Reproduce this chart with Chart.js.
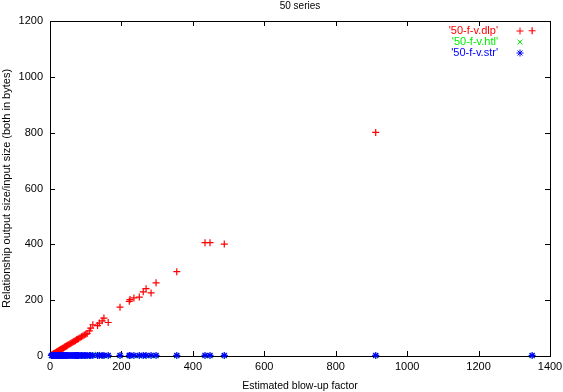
<!DOCTYPE html>
<html>
<head>
<meta charset="utf-8">
<script src="https://cdn.jsdelivr.net/npm/chart.js@4"></script>
<style>
	html, body { margin: 0; padding: 0; background: #fff; }
	#wrap { width: 563px; height: 392px; }
</style>
</head>
<body>
<div id="wrap"><canvas id="grafico" width="563" height="392"></canvas></div>
<script>
// Datos (factor estimado vs. relación salida/entrada)
const factores = [4, 6, 8, 10, 12, 14, 16, 18, 20, 22, 24, 26, 28, 30, 32, 34, 36, 38, 40, 42,
	44, 46, 48, 50, 53, 56, 59, 62, 65, 68, 71, 74, 77, 80, 84, 88, 92, 96, 100, 104,
	110, 114, 120, 133, 138, 146, 151, 163, 196, 222, 224, 235, 250, 261, 269, 283, 297, 355,
	434, 448, 488, 912, 1350];
const dlp = [3, 5, 6, 8, 9, 11, 12, 14, 15, 17, 19, 20, 22, 23, 25, 26, 28, 29, 31, 33,
	34, 36, 37, 39, 41, 44, 46, 48, 51, 53, 55, 58, 60, 62, 65, 69, 72, 75, 78, 81,
	90, 100, 112, 109, 118, 126, 136, 120, 175, 196, 202, 208, 211, 230, 241, 226, 262, 302,
	406, 406, 401, 801, 1165];
const htl = [1, 1, 1, 1, 1, 1, 1, 1, 1, 1, 1, 1, 1, 1, 1, 1, 1, 1, 1, 1,
	1, 1, 1, 1, 1, 1, 1, 1, 1, 1, 1, 1, 1, 1, 1, 1, 1, 1, 1, 1,
	1, 1, 1, 6, 1, 1, 1, 1, 1, 1, 1, 1, 1, 1, 1, 1, 1, 1,
	1, 1, 1, 1, 1];
const str = [2, 2, 2, 2, 2, 2, 2, 2, 2, 2, 2, 2, 2, 2, 2, 2, 2, 2, 2, 2,
	2, 2, 2, 2, 2, 2, 2, 2, 2, 2, 2, 2, 2, 2, 2, 2, 2, 2, 2, 2,
	2, 2, 2, 2, 2, 2, 2, 2, 2, 2, 2, 2, 2, 2, 2, 2, 2, 2,
	2, 2, 2, 2, 2];
const ticksX = [0, 200, 400, 600, 800, 1000, 1200, 1400];
const ticksY = [0, 200, 400, 600, 800, 1000, 1200];

const fuente = 'Liberation Sans, Arial, sans-serif';
const titulo = '50 series';
const series = [
	{ label: "'50-f-v.dlp'", data: dlp, color: '#ff0000', style: 'cross', order: 2 },
	{ label: "'50-f-v.htl'", data: htl, color: '#00ee00', style: 'crossRot', order: 1 },
	{ label: "'50-f-v.str'", data: str, color: '#0000ff', style: 'star', order: 0 }
];

// Marco y marcas de graduación hacia dentro (estilo gnuplot), debajo de los puntos
const marco = {
	id: 'marco',
	beforeDatasetsDraw(chart) {
		const { ctx, chartArea: a, scales } = chart;
		ctx.save();
		ctx.strokeStyle = '#000';
		ctx.lineWidth = 1;
		ctx.strokeRect(a.left + 0.5, a.top + 0.5, a.right - a.left, a.bottom - a.top);
		ctx.beginPath();
		ticksX.forEach(v => {
			const x = Math.round(scales.x.getPixelForValue(v)) + 0.5;
			ctx.moveTo(x, a.bottom); ctx.lineTo(x, a.bottom - 5);
			ctx.moveTo(x, a.top); ctx.lineTo(x, a.top + 5);
		});
		ticksY.forEach(v => {
			const y = Math.round(scales.y.getPixelForValue(v)) + 0.5;
			ctx.moveTo(a.left, y); ctx.lineTo(a.left + 5, y);
			ctx.moveTo(a.right, y); ctx.lineTo(a.right - 5, y);
		});
		ctx.stroke();
		ctx.restore();
	},
	afterDraw(chart) {
		const { ctx, chartArea: a } = chart;
		ctx.save();
		// Título centrado sobre el área del gráfico
		ctx.fillStyle = '#000';
		ctx.font = '10px ' + fuente;
		ctx.textAlign = 'center';
		ctx.textBaseline = 'middle';
		ctx.fillText(titulo, (a.left + a.right) / 2, 6);

		// Leyenda dentro del área, texto alineado a la derecha y símbolo a la derecha
		ctx.font = '11px ' + fuente;
		ctx.textAlign = 'right';
		ctx.lineWidth = 1;
		series.forEach((s, i) => {
			const y = a.top + 10 + i * 11;
			ctx.fillStyle = s.color;
			ctx.strokeStyle = s.color;
			ctx.fillText(s.label, a.right - 52, y);
			Chart.helpers.drawPoint(ctx, { pointStyle: s.style, radius: 3.5, borderWidth: 1 }, a.right - 30, y);
		});
		ctx.restore();
	}
};

new Chart(document.getElementById('grafico'), {
	type: 'scatter',
	data: {
		datasets: series.map(s => ({
			label: s.label,
			data: factores.map((x, i) => ({ x: x, y: s.data[i] })),
			pointStyle: s.style,
			pointRadius: 3.5,
			borderColor: s.color,
			backgroundColor: s.color,
			borderWidth: 1.2,
			order: s.order,
			clip: false
		}))
	},
	options: {
		responsive: false,
		animation: false,
		layout: { padding: { left: 0, right: 13, top: 21, bottom: 0 } },
		plugins: {
			legend: { display: false },
			tooltip: { enabled: false },
			title: { display: false }
		},
		scales: {
			x: {
				type: 'linear',
				min: 0,
				max: 1400,
				afterBuildTicks: s => { s.ticks = ticksX.map(v => ({ value: v })); },
				afterFit: s => { s.height = 36; s.paddingRight = 0; s.paddingLeft = 0; },
				grid: { display: false, drawTicks: false },
				border: { display: false },
				ticks: { color: '#000', font: { family: fuente, size: 11 }, padding: 4, maxRotation: 0, callback: v => String(v) },
				title: { display: true, text: 'Estimated blow-up factor', color: '#000', font: { family: fuente, size: 10.5 }, padding: 0 }
			},
			y: {
				type: 'linear',
				min: 0,
				max: 1200,
				afterBuildTicks: s => { s.ticks = ticksY.map(v => ({ value: v })); },
				afterFit: s => { s.width = 50; s.paddingTop = 0; s.paddingBottom = 0; },
				grid: { display: false, drawTicks: false },
				border: { display: false },
				ticks: { color: '#000', font: { family: fuente, size: 11 }, padding: 7, callback: v => String(v) },
				title: { display: true, text: 'Relationship output size/input size (both in bytes)', color: '#000', font: { family: fuente, size: 11 }, padding: 0 }
			}
		}
	},
	plugins: [marco]
});
</script>
</body>
</html>
